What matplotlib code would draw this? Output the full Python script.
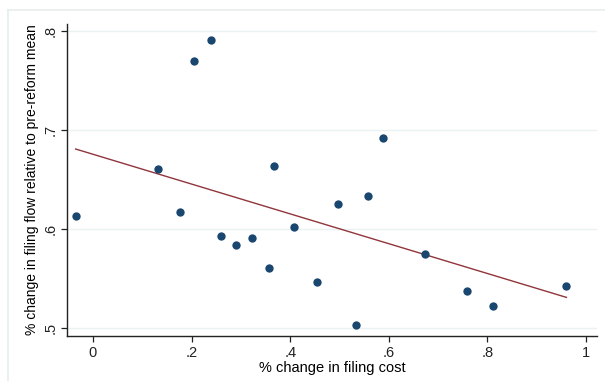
import matplotlib
matplotlib.use("Agg")
import matplotlib.pyplot as plt
from matplotlib.lines import Line2D
import numpy as np

plt.rcParams["font.family"] = ["Liberation Sans", "DejaVu Sans"]

# % change in filing cost vs % change in filing flow
cost_change = [-0.035, 0.132, 0.176, 0.205, 0.240, 0.260, 0.290, 0.323, 0.357, 0.368,
               0.407, 0.454, 0.496, 0.533, 0.557, 0.589, 0.673, 0.758, 0.811, 0.960]
flow_change = [0.613, 0.661, 0.617, 0.770, 0.791, 0.593, 0.584, 0.591, 0.560, 0.664,
               0.602, 0.546, 0.625, 0.503, 0.633, 0.692, 0.575, 0.537, 0.522, 0.542]
x_ticks = [0, 0.2, 0.4, 0.6, 0.8, 1.0]
x_tick_labels = ["0", ".2", ".4", ".6", ".8", "1"]
y_ticks = [0.5, 0.6, 0.7, 0.8]
y_tick_labels = [".5", ".6", ".7", ".8"]

W, H = 605, 381
fig = plt.figure(figsize=(W / 100, H / 100), dpi=100)
fig.patch.set_facecolor("white")

# light outer graph-region frame
frame_col = "#e6eeee"
fig.add_artist(Line2D([8 / W, 1], [1 - 10 / H, 1 - 10 / H], color=frame_col, lw=1.2))
fig.add_artist(Line2D([8 / W, 8 / W], [0, 1 - 10 / H], color=frame_col, lw=1.2))

ax = fig.add_axes([67 / W, 1 - 336 / H, (597 - 67) / W, (336 - 24) / H])

x = np.array(cost_change)
y = np.array(flow_change)

ax.scatter(x, y, s=36, color="#1a476f", zorder=3, linewidths=0)

slope, intercept = np.polyfit(x, y, 1)
xf = np.array([x.min(), x.max()])
ax.plot(xf, intercept + slope * xf, color="#90353b", lw=1.0, zorder=2)

ax.set_xlim(-0.0525, 1.022)
ax.set_ylim(0.4917, 0.8073)

ax.set_xticks(x_ticks, x_tick_labels)
ax.set_yticks(y_ticks, y_tick_labels)
for lab in ax.get_yticklabels():
    lab.set_rotation(90)
    lab.set_va("center")

ax.grid(axis="y", color="#eaf2f3", lw=1.0)
ax.set_axisbelow(True)
for side in ["top", "right"]:
    ax.spines[side].set_visible(False)
for side in ["left", "bottom"]:
    ax.spines[side].set_color("#222222")
    ax.spines[side].set_linewidth(1.0)

ax.tick_params(direction="out", length=4, width=0.9, labelsize=10.5, colors="#222222", pad=3)

ax.set_xlabel("% change in filing cost", fontsize=10.5, labelpad=1)
ax.set_ylabel("% change in filing flow relative to pre-reform mean", fontsize=10, labelpad=3)

fig.savefig("out.png", dpi=100, facecolor="white")
